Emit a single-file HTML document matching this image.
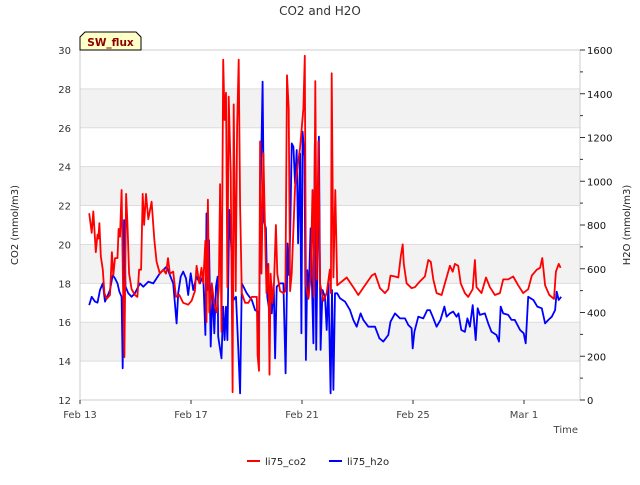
<!DOCTYPE html>
<html><head><meta charset="utf-8"><style>
body{margin:0;background:#fff;}
svg{font-family:"DejaVu Sans","Liberation Sans",sans-serif;}
</style></head><body>
<svg id="chart" width="640" height="480" viewBox="0 0 640 480">
<text x="320" y="15" text-anchor="middle" font-size="12" fill="#333">CO2 and H2O</text>
<g id="bands"></g>
<g id="grid"></g>
<rect x="80" y="50" width="500" height="350" fill="none" stroke="#ccc"/>
<g id="axes"></g>
<g id="series"></g>
<text transform="translate(18,225) rotate(-90)" text-anchor="middle" font-size="10" fill="#222">CO2 (mmol/m3)</text>
<text transform="translate(630,225) rotate(-90)" text-anchor="middle" font-size="10" fill="#222">H2O (mmol/m3)</text>
<text x="578" y="433" text-anchor="end" font-size="10" fill="#444">Time</text>
<g>
<path d="M80,50 L80,37 L85,32 L136,32 L141,37 L141,50 Z" fill="#ffffc8" stroke="#000" stroke-width="1"/>
<text x="110.5" y="46" text-anchor="middle" font-size="10.5" font-weight="bold" fill="#8b0000">SW_flux</text>
</g>
<g>
<g><line x1="247" y1="461" x2="260" y2="461" stroke="#f00" stroke-width="2"/><text x="265" y="465" font-size="10" fill="#222">li75_co2</text></g>
<g><line x1="329" y1="461" x2="342" y2="461" stroke="#00f" stroke-width="2"/><text x="347" y="465" font-size="10" fill="#222">li75_h2o</text></g>
</g>
</svg>
<script>
const xTickLabels=["Feb 13","Feb 17","Feb 21","Feb 25","Mar 1"];
const xTickDays=[0,4,8,12,16];
const leftTicks=[12,14,16,18,20,22,24,26,28,30];
const rightTicks=[0,200,400,600,800,1000,1200,1400,1600];
const co2Days=[0.33,0.42,0.48,0.52,0.57,0.63,0.66,0.70,0.75,0.82,0.88,0.96,1.08,1.15,1.20,1.26,1.35,1.39,1.44,1.50,1.55,1.60,1.66,1.71,1.77,1.86,1.98,2.07,2.13,2.20,2.26,2.31,2.38,2.46,2.58,2.68,2.76,2.88,3.00,3.10,3.17,3.24,3.36,3.46,3.58,3.72,3.90,4.02,4.14,4.20,4.30,4.38,4.44,4.52,4.56,4.61,4.66,4.75,4.83,4.93,5.00,5.05,5.10,5.16,5.21,5.26,5.31,5.36,5.43,5.50,5.54,5.61,5.66,5.72,5.77,5.83,5.95,6.07,6.19,6.37,6.40,6.45,6.49,6.54,6.61,6.65,6.72,6.79,6.83,6.87,6.93,6.99,7.06,7.11,7.21,7.33,7.40,7.46,7.52,7.57,7.63,7.75,7.93,8.05,8.10,8.14,8.23,8.31,8.38,8.43,8.48,8.53,8.59,8.65,8.77,8.89,9.00,9.04,9.07,9.13,9.20,9.27,9.61,9.85,10.03,10.27,10.51,10.63,10.81,10.99,11.11,11.19,11.35,11.47,11.56,11.63,11.67,11.77,11.95,12.07,12.25,12.43,12.55,12.64,12.73,12.85,13.03,13.21,13.33,13.43,13.51,13.63,13.72,13.87,13.99,14.15,14.23,14.29,14.47,14.63,14.77,14.95,15.13,15.25,15.43,15.61,15.79,15.97,16.15,16.28,16.46,16.58,16.66,16.76,16.91,17.08,17.15,17.25,17.32];
const co2Values=[21.6,20.6,21.7,20.8,19.6,20.5,20.3,21.1,19.4,18.7,17.5,17.2,17.4,19.6,18.4,19.3,19.3,20.8,20.4,22.8,18.0,14.2,22.6,21.0,18.5,17.7,17.4,17.3,18.7,18.7,22.6,21.0,22.6,21.3,22.2,20.2,19.1,18.5,18.7,18.5,19.3,18.5,18.6,17.3,17.4,17.0,16.9,17.1,17.6,18.9,18.0,18.8,18.0,20.2,16.0,22.3,16.5,18.0,17.0,16.5,17.8,23.1,15.5,29.5,26.4,27.8,17.8,27.6,23.7,12.4,27.2,17.6,26.0,29.5,22.0,17.5,17.0,17.0,17.3,17.3,14.3,13.5,25.3,18.5,24.7,22.0,17.5,19.0,13.3,18.5,17.0,18.0,21.0,18.5,17.6,17.5,17.6,28.7,27.0,17.6,18.5,23.0,25.0,27.0,29.7,17.9,17.2,18.3,22.8,17.3,28.4,18.2,25.3,18.0,17.1,17.5,18.7,17.5,28.8,18.3,22.8,17.9,18.3,17.8,17.4,17.9,18.4,18.5,17.75,17.5,17.7,18.4,18.35,18.3,19.4,20.0,19.0,18.0,17.75,17.8,18.1,18.35,19.2,19.1,18.2,17.5,17.4,18.3,18.9,18.6,19.0,18.9,18.0,17.5,17.3,17.7,19.2,17.8,17.5,18.3,17.8,17.4,17.5,18.2,18.2,18.35,17.9,17.5,17.7,18.4,18.7,18.8,19.3,17.9,17.4,17.2,18.6,19.0,18.8];
const h2oDays=[0.33,0.42,0.54,0.63,0.72,0.82,0.90,0.98,1.08,1.18,1.26,1.35,1.42,1.50,1.54,1.59,1.64,1.74,1.86,1.98,2.16,2.28,2.46,2.64,2.88,3.12,3.24,3.36,3.42,3.48,3.54,3.63,3.72,3.82,3.90,3.99,4.08,4.20,4.32,4.44,4.52,4.56,4.60,4.65,4.71,4.78,4.84,4.90,4.96,4.98,5.10,5.16,5.21,5.26,5.31,5.38,5.45,5.53,5.62,5.70,5.77,5.83,6.01,6.19,6.31,6.40,6.44,6.49,6.54,6.58,6.63,6.70,6.75,6.80,6.85,6.91,6.98,7.03,7.09,7.21,7.33,7.41,7.48,7.53,7.58,7.63,7.69,7.75,7.81,7.86,7.93,7.98,8.02,8.09,8.14,8.19,8.24,8.31,8.41,8.46,8.51,8.56,8.61,8.67,8.74,8.83,8.89,8.95,9.03,9.08,9.13,9.19,9.27,9.37,9.55,9.73,9.85,9.97,10.11,10.21,10.39,10.63,10.79,10.93,11.11,11.19,11.35,11.53,11.71,11.83,11.95,11.99,12.05,12.19,12.37,12.51,12.61,12.71,12.85,12.99,13.13,13.21,13.33,13.45,13.57,13.64,13.74,13.87,13.96,14.05,14.15,14.26,14.33,14.41,14.59,14.71,14.83,15.01,15.10,15.16,15.25,15.43,15.55,15.67,15.86,15.99,16.06,16.15,16.34,16.48,16.64,16.76,16.88,17.00,17.12,17.18,17.25,17.34];
const h2oValues=[434,472,450,445,503,533,450,472,503,571,556,533,495,472,145,823,518,488,472,488,533,518,541,533,579,610,571,533,442,350,488,564,587,556,480,579,503,564,533,571,297,853,503,731,244,503,305,518,564,290,190,427,274,427,274,869,701,457,472,244,30,533,488,457,411,404,229,777,1173,1455,815,785,472,427,518,396,533,190,518,533,533,122,716,571,785,1173,1158,990,1143,716,1127,305,1227,1112,183,594,472,785,259,1173,229,655,1204,229,503,472,320,533,30,503,46,488,488,465,450,411,366,335,396,366,335,335,282,267,297,358,396,373,373,343,328,236,312,381,373,411,411,381,335,366,427,381,396,404,381,396,320,312,373,335,434,274,419,389,396,350,312,297,267,427,396,389,366,366,320,305,259,472,457,427,419,350,366,381,411,495,457,472];

const X0=80,X1=580,Y0=400,Y1=50,PXDAY=27.75;
const xs=d=>X0+d*PXDAY;
const yL=v=>Y0-(v-12)*(Y0-Y1)/18;
const yR=v=>Y0-v*(Y0-Y1)/1600;
const NS="http://www.w3.org/2000/svg";
function mk(tag,attrs,parent){const e=document.createElementNS(NS,tag);for(const k in attrs)e.setAttribute(k,attrs[k]);parent.appendChild(e);return e;}
const bands=document.getElementById('bands'),grid=document.getElementById('grid'),axes=document.getElementById('axes'),series=document.getElementById('series');
[14,18,22,26].forEach(v=>{
  const r=mk('rect',{x:X0,y:yL(v+2),width:X1-X0,height:yL(v)-yL(v+2),fill:'#f2f2f2'},bands);
  
  
});
leftTicks.forEach(v=>{
  const l=mk('line',{x1:X0,x2:X1,y1:yL(v),y2:yL(v),stroke:'#ddd','stroke-width':1},grid);
  
  
  const t=mk('text',{x:71,y:yL(v)+4,'text-anchor':'end','font-size':10,fill:'#333'},axes);
  t.textContent=v;
  
  
});
rightTicks.forEach(v=>{
  mk('line',{x1:X1,x2:X1+5,y1:yR(v),y2:yR(v),stroke:'#333'},axes);
  if(v<1600) mk('line',{x1:X1,x2:X1+3,y1:yR(v+100),y2:yR(v+100),stroke:'#333'},axes);
  const t=mk('text',{x:587,y:yR(v)+4,'font-size':10,fill:'#111'},axes);
  t.textContent=v;
  
  
});
xTickDays.forEach((d,i)=>{
  mk('line',{x1:xs(d),x2:xs(d),y1:Y0,y2:Y0+4,stroke:'#333'},axes);
  const t=mk('text',{x:xs(d),y:418,'text-anchor':'middle','font-size':10,fill:'#444'},axes);
  t.textContent=xTickLabels[i];
  
  
});
function line(days,vals,yf,color,name){
  const p=mk('polyline',{points:days.map((d,i)=>xs(d).toFixed(1)+','+yf(vals[i]).toFixed(1)).join(' '),fill:'none',stroke:color,'stroke-width':1.8,'stroke-linejoin':'round'},series);
  
  
}
line(h2oDays,h2oValues,yR,'#00f','h2o-line');
line(co2Days,co2Values,yL,'#f00','co2-line');
</script>
</body></html>
